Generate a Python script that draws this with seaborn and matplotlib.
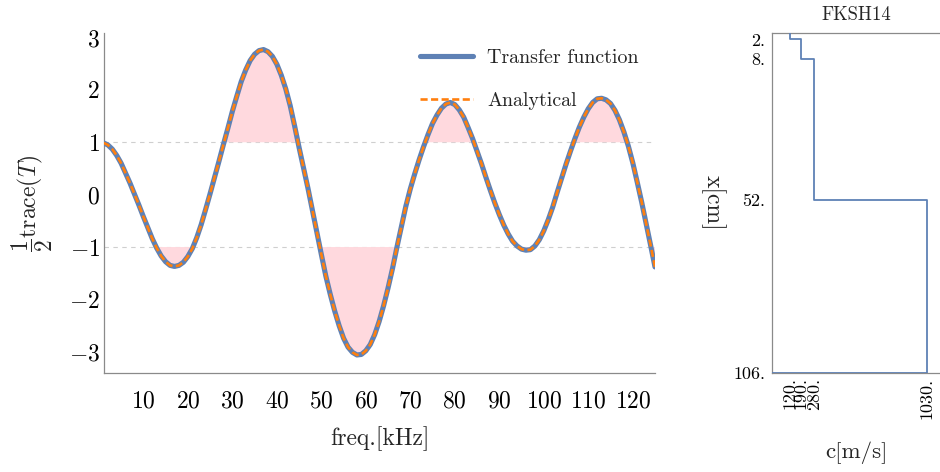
import matplotlib
matplotlib.use("Agg")
import matplotlib.pyplot as plt
import numpy as np
import pandas as pd
import seaborn as sns
from matplotlib.lines import Line2D
from matplotlib.ticker import MultipleLocator, FixedLocator, FixedFormatter

# ---- half-trace of the transfer matrix vs frequency (1 kHz steps) ----
freq_khz = list(range(1, 126))
half_trace_transfer = [
    0.99, 0.95, 0.87, 0.75, 0.60, 0.41, 0.22, 0.01, -0.20, -0.42,      # 1-10
    -0.63, -0.84, -1.02, -1.17, -1.28, -1.35, -1.37, -1.35, -1.29, -1.18,  # 11-20
    -1.03, -0.82, -0.57, -0.28, 0.02, 0.33, 0.64, 0.96, 1.27, 1.59,    # 21-30
    1.88, 2.16, 2.38, 2.56, 2.68, 2.75, 2.77, 2.73, 2.64, 2.49,        # 31-40
    2.28, 2.02, 1.70, 1.31, 0.90, 0.51, 0.12, -0.30, -0.72, -1.14,     # 41-50
    -1.55, -1.90, -2.22, -2.50, -2.74, -2.91, -3.01, -3.06, -3.05, -2.98,  # 51-60
    -2.86, -2.67, -2.42, -2.12, -1.78, -1.41, -1.00, -0.61, -0.22, 0.11,   # 61-70
    0.40, 0.67, 0.92, 1.15, 1.36, 1.52, 1.65, 1.73, 1.76, 1.72,        # 71-80
    1.62, 1.48, 1.28, 1.07, 0.83, 0.59, 0.33, 0.08, -0.16, -0.38,      # 81-90
    -0.58, -0.75, -0.89, -0.98, -1.04, -1.06, -1.05, -0.98, -0.86, -0.69,  # 91-100
    -0.48, -0.24, 0.04, 0.31, 0.58, 0.83, 1.07, 1.29, 1.48, 1.64,      # 101-110
    1.76, 1.83, 1.84, 1.81, 1.74, 1.61, 1.43, 1.20, 0.93, 0.61,        # 111-120
    0.24, -0.14, -0.55, -0.96, -1.38,                                  # 121-125
]
half_trace_analytical = list(half_trace_transfer)

# ---- layered sound-speed profile ----
layer_depth_cm = [0, 2, 8, 52, 106]
layer_speed_ms = [120, 190, 280, 1030]
depth_ticks = [2, 8, 52, 106]
speed_ticks = [120, 190, 280, 1030]

BLUE = "#5E81B5"
ORANGE = "#FF7F0E"
PINK = "#FFD9DE"
SPINE = "#8A8A8A"

sns.set_style("white")
plt.rcParams.update({
    "font.family": ["cmr10", "DejaVu Serif"],
    "mathtext.fontset": "cm",
    "axes.formatter.use_mathtext": True,
    "axes.unicode_minus": True,
    "axes.edgecolor": SPINE,
    "axes.linewidth": 0.9,
    "xtick.color": SPINE,
    "ytick.color": SPINE,
    "xtick.labelcolor": "black",
    "ytick.labelcolor": "black",
})

fig = plt.figure(figsize=(9.4, 4.72), dpi=100)
W, H = 940, 472
ax = fig.add_axes([104 / W, 1 - 373.3 / H, (655 - 104) / W, (373.3 - 33) / H])
ax2 = fig.add_axes([772 / W, 1 - 373.3 / H, (940 - 772) / W, (373.3 - 33) / H])

df = pd.DataFrame({"freq": freq_khz,
                   "transfer": half_trace_transfer,
                   "analytical": half_trace_analytical})

x = np.asarray(freq_khz, float)
y = np.asarray(half_trace_transfer, float)

# shaded regions outside the |trace/2| <= 1 band
ax.fill_between(x, y, 1, where=y > 1, interpolate=True, color=PINK, lw=0, zorder=1)
ax.fill_between(x, y, -1, where=y < -1, interpolate=True, color=PINK, lw=0, zorder=1)

for lvl in (1, -1):
    ax.axhline(lvl, color="#CFCFCF", lw=0.8, ls=(0, (4, 4)), zorder=0.5)

sns.lineplot(data=df, x="freq", y="transfer", ax=ax, color=BLUE, lw=3.7,
             zorder=3, legend=False)
sns.lineplot(data=df, x="freq", y="analytical", ax=ax, color=ORANGE, lw=1.9,
             zorder=4, legend=False)
ax.lines[-1].set_dashes([2.7, 1.3])
for ln in ax.lines[-2:]:
    ln.set_solid_joinstyle("round")

ax.set_xlim(1.15, 125)
ax.set_ylim(-3.41, 3.086)
ax.xaxis.set_major_locator(FixedLocator(list(range(10, 121, 10))))
ax.yaxis.set_major_locator(MultipleLocator(1))
ax.yaxis.set_minor_locator(MultipleLocator(0.2))
ax.tick_params(axis="both", which="major", direction="in", length=4.3, width=0.8,
               labelsize=17)
ax.tick_params(axis="x", which="major", pad=12)
ax.tick_params(axis="y", which="major", pad=3)
ax.tick_params(axis="y", which="minor", direction="in", length=2.4, width=0.7)
for s in ("top", "right"):
    ax.spines[s].set_visible(False)

ax.set_xlabel("freq.[kHz]", fontsize=17)
ax.xaxis.set_label_coords(0.5, -0.155)
ax.set_ylabel(r"$\dfrac{1}{2}\mathrm{trace}(T)$", fontsize=17)
ax.yaxis.label.set_va("center")
ax.yaxis.set_label_coords(-0.13, 0.5)

handles = [Line2D([], [], color=BLUE, lw=3.7),
           Line2D([], [], color=ORANGE, lw=1.9, dashes=[2.7, 1.3])]
fig.legend(handles, ["Transfer function", "Analytical"], loc="upper left",
           bbox_to_anchor=(420 / W, 1 - 49 / H), frameon=False, fontsize=14.4,
           handlelength=2.65, handletextpad=0.7, labelspacing=1.25,
           borderpad=0, borderaxespad=0)

# ---- profile panel ----
path_x, path_y = [], []
for i, c in enumerate(layer_speed_ms):
    path_x += [c, c]
    path_y += [layer_depth_cm[i], layer_depth_cm[i + 1]]
path_x.append(0)
path_y.append(layer_depth_cm[-1])
prof = pd.DataFrame({"c": path_x, "depth": path_y})
sns.lineplot(data=prof, x="c", y="depth", ax=ax2, sort=False, estimator=None,
             color=BLUE, lw=1.3, legend=False, zorder=3)

ax2.set_xlim(0, 1118)
ax2.set_ylim(106, 0)
ax2.spines["right"].set_visible(False)
ax2.xaxis.set_major_locator(FixedLocator(speed_ticks))
ax2.xaxis.set_major_formatter(FixedFormatter([f"{v}." for v in speed_ticks]))
ax2.yaxis.set_major_locator(FixedLocator(depth_ticks))
ax2.yaxis.set_major_formatter(FixedFormatter([f"{v}." for v in depth_ticks]))
ax2.tick_params(axis="x", direction="in", length=2.5, width=0.8, labelsize=13,
                labelrotation=90, pad=3)
ax2.tick_params(axis="y", direction="out", length=3, width=0.8, labelsize=13, pad=2)
ax2.set_title("FKSH14", fontsize=13.5, pad=9)
ax2.set_xlabel("c[m/s]", fontsize=16.5)
ax2.xaxis.set_label_coords(0.5, -0.2)
ax2.set_ylabel("x[cm]", fontsize=17, rotation=-90)
ax2.yaxis.label.set_va("center")
ax2.yaxis.set_label_coords(-0.35, 0.5)

fig.savefig("out.png", dpi=100)
